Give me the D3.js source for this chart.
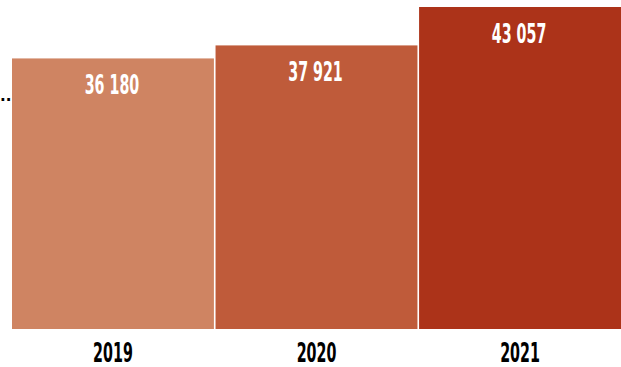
<!DOCTYPE html>
<html>
<head>
<meta charset="utf-8">
<script src="https://cdn.jsdelivr.net/npm/d3@7"></script>
<style>
  body { margin: 0; background: #fff; }
  svg { display: block; }
  text { font-family: "Liberation Sans Narrow", "DejaVu Sans Condensed", sans-serif; font-weight: bold; }
</style>
</head>
<body>
<script>
// chart data
var years = ["2019", "2020", "2021"];
var values = [36180, 37921, 43057];
var valueLabels = ["36 180", "37 921", "43 057"];
var barColors = ["#cf8462", "#bf5b3a", "#ac3319"];

var width = 621;
var height = 367;
var squeeze = 0.61; // the reference font is very condensed

var svg = d3.select("body")
            .append("svg")
            .attr("width", width)
            .attr("height", height);

var x = d3.scaleBand()
          .domain(years)
          .range([12, 621])
          .paddingInner(0.008)
          .paddingOuter(0);

var y = d3.scaleLinear()
          .domain([0, 43057])
          .range([329, 7]);

// bars
svg.selectAll("rect.bar")
   .data(years)
   .enter()
   .append("rect")
   .attr("class", "bar")
   .attr("x", d => x(d))
   .attr("y", (d, i) => y(values[i]))
   .attr("width", x.bandwidth())
   .attr("height", (d, i) => y(0) - y(values[i]))
   .attr("fill", (d, i) => barColors[i]);

// value labels inside the bars
svg.selectAll("text.value")
   .data(years)
   .enter()
   .append("text")
   .attr("class", "value")
   .attr("transform", (d, i) => "translate(" + (x(d) + x.bandwidth() / 2 - 1) + "," + (y(values[i]) + 36) + ") scale(" + squeeze + ",1)")
   .attr("text-anchor", "middle")
   .style("font-size", "26px")
   .style("fill", "#fff")
   .text((d, i) => valueLabels[i]);

// x axis labels
var xAxis = d3.axisBottom(x).tickSize(0).tickPadding(0);
var gx = svg.append("g")
            .call(xAxis);
gx.select(".domain").remove();
// scale each tick label around its own centre
gx.selectAll(".tick").each(function() {
  var t = d3.select(this);
  var tx = x(t.datum()) + x.bandwidth() / 2;
  t.attr("transform", null);
  t.select("text")
   .attr("y", 0)
   .attr("dy", 0)
   .attr("transform", "translate(" + tx + ",362) scale(" + squeeze + ",1)")
   .style("font-size", "26px")
   .style("font-family", "'Liberation Sans Narrow', 'DejaVu Sans Condensed', sans-serif")
   .style("font-weight", "bold")
   .style("fill", "#000");
});

// truncated y-axis label at the left edge
svg.append("text")
   .attr("x", 0)
   .attr("y", 101)
   .style("font-size", "15px")
   .style("font-weight", "bold")
   .style("font-family", "'DejaVu Sans', sans-serif")
   .style("fill", "#000")
   .text("..");
</script>
</body>
</html>
